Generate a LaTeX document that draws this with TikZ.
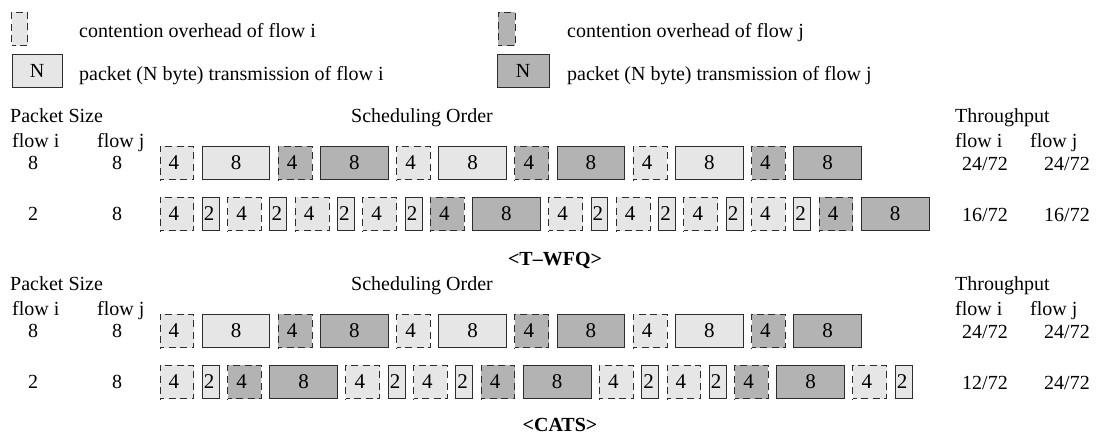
\documentclass[tikz,border=0pt]{standalone}
\usepackage{fontspec}
\setmainfont{Liberation Serif}
\usetikzlibrary{positioning}
\definecolor{lightfill}{RGB}{230,230,230}
\definecolor{darkfill}{RGB}{179,179,179}
\definecolor{edge}{RGB}{45,45,45}
\begin{document}
\begin{tikzpicture}[x=1pt,y=-1pt,font=\fontsize{20}{24}\selectfont,
  base/.style={inner sep=0pt, outer sep=0pt, minimum height=33.8pt, line width=0.9pt, draw=edge, font=\fontsize{21}{24}\selectfont},
  ovi/.style={base, fill=lightfill, dash pattern=on 7pt off 4.5pt, dash phase=3pt, minimum width=33.8pt},
  ovj/.style={ovi, fill=darkfill},
  pkti/.style={base, fill=lightfill, minimum width=#1*8.45pt},
  pktj/.style={base, fill=darkfill, minimum width=#1*8.45pt},
  lbl/.style={anchor=base west, inner sep=0pt},
  val/.style={inner sep=0pt},
  title/.style={font=\fontsize{20}{24}\selectfont\bfseries, inner sep=0pt}]
\useasboundingbox (0,0) rectangle (1096,434);
\fill[white] (0,0) rectangle (1096,434);

% legend
\node[ovi, minimum width=16pt, anchor=north west] (lgoi) at (11.5,12) {};
\node[lbl] (lgoit) at (79,37) {contention overhead of flow i};
\node[pkti=6, minimum width=50pt, anchor=north west, font=\fontsize{20}{24}\selectfont] (lgpi) at (12,54) {N};
\node[lbl] (lgpit) at (79,80) {packet (N byte) transmission of flow i};
\node[ovj, minimum width=17pt, anchor=north west] (lgoj) at (498,12) {};
\node[lbl] (lgojt) at (567,37) {contention overhead of flow j};
\node[pktj=6, minimum width=52pt, anchor=north west, font=\fontsize{20}{24}\selectfont] (lgpj) at (497,54) {N};
\node[lbl] (lgpjt) at (567,80) {packet (N byte) transmission of flow j};

% ================= T-WFQ =================
\node[lbl] (tps) at (10,122) {Packet Size};
\node[lbl] (tso) at (351,122) {Scheduling Order};
\node[lbl] (ttp) at (955,122) {Throughput};
\node[lbl] (tfi) at (12,147) {flow i};
\node[lbl] (tfj) at (97,147) {flow j};
\node[lbl] (ttfi) at (955,147) {flow i};
\node[lbl] (ttfj) at (1030,147) {flow j};
\node[val] (tr1i) at (33,163) {8};
\node[val] (tr1j) at (117,163) {8};
\node[val] (tr2i) at (33,214) {2};
\node[val] (tr2j) at (117,214) {8};
\node[val] (tv1i) at (985,164) {24/72};
\node[val] (tv1j) at (1067,164) {24/72};
\node[val] (tv2i) at (985,215) {16/72};
\node[val] (tv2j) at (1067,215) {16/72};

% row T1
\node[ovi, anchor=west] (t1a) at (160,163) {4\kern6pt};
\node[pkti=8, right=8.45pt of t1a] (t1b) {8};
\node[ovj, right=8.45pt of t1b] (t1c) {4\kern6pt};
\node[pktj=8, right=8.45pt of t1c] (t1d) {8};
\node[ovi, right=8.45pt of t1d] (t1e) {4\kern6pt};
\node[pkti=8, right=8.45pt of t1e] (t1f) {8};
\node[ovj, right=8.45pt of t1f] (t1g) {4\kern6pt};
\node[pktj=8, right=8.45pt of t1g] (t1h) {8};
\node[ovi, right=8.45pt of t1h] (t1i) {4\kern6pt};
\node[pkti=8, right=8.45pt of t1i] (t1j) {8};
\node[ovj, right=8.45pt of t1j] (t1k) {4\kern6pt};
\node[pktj=8, right=8.45pt of t1k] (t1l) {8};

% row T2
\node[ovi, anchor=west] (t2a) at (160,214) {4\kern6pt};
\node[pkti=2, right=8.45pt of t2a] (t2b) {2\kern3pt};
\node[ovi, right=8.45pt of t2b] (t2c) {4\kern6pt};
\node[pkti=2, right=8.45pt of t2c] (t2d) {2\kern3pt};
\node[ovi, right=8.45pt of t2d] (t2e) {4\kern6pt};
\node[pkti=2, right=8.45pt of t2e] (t2f) {2\kern3pt};
\node[ovi, right=8.45pt of t2f] (t2g) {4\kern6pt};
\node[pkti=2, right=8.45pt of t2g] (t2h) {2\kern3pt};
\node[ovj, right=8.45pt of t2h] (t2i) {4\kern6pt};
\node[pktj=8, right=8.45pt of t2i] (t2j) {8};
\node[ovi, right=8.45pt of t2j] (t2k) {4\kern6pt};
\node[pkti=2, right=8.45pt of t2k] (t2l) {2\kern3pt};
\node[ovi, right=8.45pt of t2l] (t2m) {4\kern6pt};
\node[pkti=2, right=8.45pt of t2m] (t2n) {2\kern3pt};
\node[ovi, right=8.45pt of t2n] (t2o) {4\kern6pt};
\node[pkti=2, right=8.45pt of t2o] (t2p) {2\kern3pt};
\node[ovi, right=8.45pt of t2p] (t2q) {4\kern6pt};
\node[pkti=2, right=8.45pt of t2q] (t2r) {2\kern3pt};
\node[ovj, right=8.45pt of t2r] (t2s) {4\kern6pt};
\node[pktj=8, right=8.45pt of t2s] (t2t) {8};

\node[title] (twfq) at (555,260) {<T–WFQ>};

% ================= CATS =================
\node[lbl] (cps) at (10,290) {Packet Size};
\node[lbl] (cso) at (351,290) {Scheduling Order};
\node[lbl] (ctp) at (955,290) {Throughput};
\node[lbl] (cfi) at (12,315) {flow i};
\node[lbl] (cfj) at (97,315) {flow j};
\node[lbl] (ctfi) at (955,315) {flow i};
\node[lbl] (ctfj) at (1030,315) {flow j};
\node[val] (cr1i) at (33,331) {8};
\node[val] (cr1j) at (117,331) {8};
\node[val] (cr2i) at (33,382) {2};
\node[val] (cr2j) at (117,382) {8};
\node[val] (cv1i) at (985,332) {24/72};
\node[val] (cv1j) at (1067,332) {24/72};
\node[val] (cv2i) at (985,383) {12/72};
\node[val] (cv2j) at (1067,383) {24/72};

% row C1
\node[ovi, anchor=west] (c1a) at (160,331) {4\kern6pt};
\node[pkti=8, right=8.45pt of c1a] (c1b) {8};
\node[ovj, right=8.45pt of c1b] (c1c) {4\kern6pt};
\node[pktj=8, right=8.45pt of c1c] (c1d) {8};
\node[ovi, right=8.45pt of c1d] (c1e) {4\kern6pt};
\node[pkti=8, right=8.45pt of c1e] (c1f) {8};
\node[ovj, right=8.45pt of c1f] (c1g) {4\kern6pt};
\node[pktj=8, right=8.45pt of c1g] (c1h) {8};
\node[ovi, right=8.45pt of c1h] (c1i) {4\kern6pt};
\node[pkti=8, right=8.45pt of c1i] (c1j) {8};
\node[ovj, right=8.45pt of c1j] (c1k) {4\kern6pt};
\node[pktj=8, right=8.45pt of c1k] (c1l) {8};

% row C2
\node[ovi, anchor=west] (c2a) at (160,382) {4\kern6pt};
\node[pkti=2, right=8.45pt of c2a] (c2b) {2\kern3pt};
\node[ovj, right=8.45pt of c2b] (c2c) {4\kern6pt};
\node[pktj=8, right=8.45pt of c2c] (c2d) {8};
\node[ovi, right=8.45pt of c2d] (c2e) {4\kern6pt};
\node[pkti=2, right=8.45pt of c2e] (c2f) {2\kern3pt};
\node[ovi, right=8.45pt of c2f] (c2g) {4\kern6pt};
\node[pkti=2, right=8.45pt of c2g] (c2h) {2\kern3pt};
\node[ovj, right=8.45pt of c2h] (c2i) {4\kern6pt};
\node[pktj=8, right=8.45pt of c2i] (c2j) {8};
\node[ovi, right=8.45pt of c2j] (c2k) {4\kern6pt};
\node[pkti=2, right=8.45pt of c2k] (c2l) {2\kern3pt};
\node[ovi, right=8.45pt of c2l] (c2m) {4\kern6pt};
\node[pkti=2, right=8.45pt of c2m] (c2n) {2\kern3pt};
\node[ovj, right=8.45pt of c2n] (c2o) {4\kern6pt};
\node[pktj=8, right=8.45pt of c2o] (c2p) {8};
\node[ovi, right=8.45pt of c2p] (c2q) {4\kern6pt};
\node[pkti=2, right=8.45pt of c2q] (c2r) {2\kern3pt};

\node[title] (cats) at (560,425) {<CATS>};
\end{tikzpicture}
\end{document}
